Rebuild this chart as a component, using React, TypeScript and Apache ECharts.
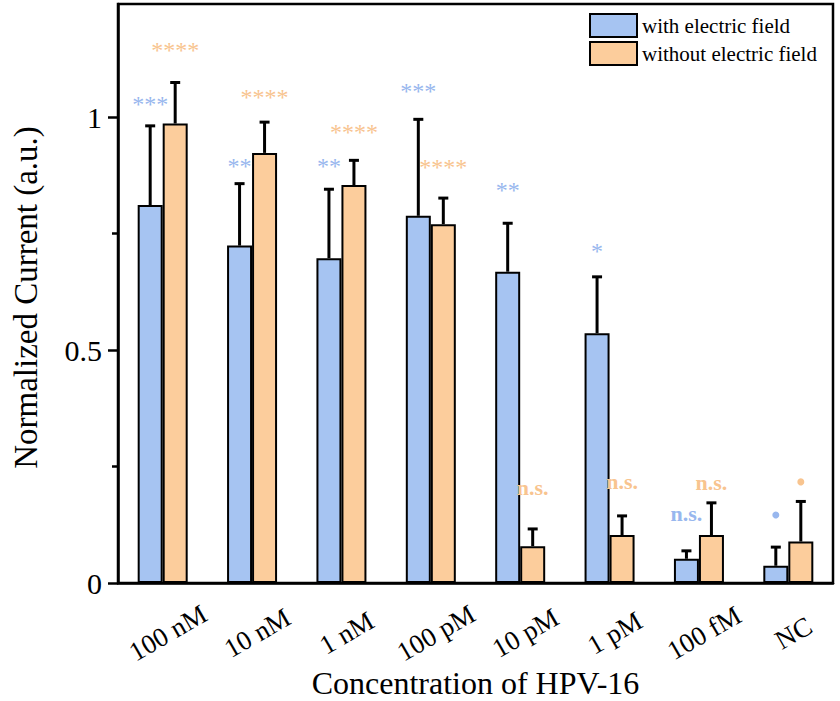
import React, { useEffect, useRef } from "react";
import * as echarts from "echarts";

const categories = ["100 nM", "10 nM", "1 nM", "100 pM", "10 pM", "1 pM", "100 fM", "NC"];
const withField = [0.811, 0.724, 0.697, 0.788, 0.668, 0.536, 0.052, 0.037];
const withFieldErr = [0.17, 0.133, 0.148, 0.207, 0.104, 0.121, 0.017, 0.04];
const withoutField = [0.986, 0.923, 0.854, 0.77, 0.079, 0.103, 0.103, 0.089];
const withoutFieldErr = [0.088, 0.066, 0.053, 0.056, 0.037, 0.041, 0.069, 0.086];
const withSig = ["***", "**", "**", "***", "**", "*", "n.s.", "•"];
const withSigY = [1.035, 0.902, 0.902, 1.062, 0.85, 0.719, 0.147, 0.146];
const withoutSig = ["****", "****", "****", "****", "n.s.", "n.s.", "n.s.", "•"];
const withoutSigY = [1.15, 1.049, 0.974, 0.899, 0.203, 0.215, 0.214, 0.217];
const yTicks = [0, 0.5, 1];
const yMinorTicks = [0.25, 0.75];

const FONT = '"Liberation Serif", "Times New Roman", serif';
const BLUE = "#a6c4f2";
const ORANGE = "#fccd9c";
const BLUE_TXT = "#98b7ee";
const ORANGE_TXT = "#f8c48f";
const HALF = 12.5;

function errorSeries(name: string, means: number[], errs: number[], dx: number) {
  return {
    type: "custom",
    name,
    data: means.map((m, i) => [i, m, errs[i]]),
    encode: { x: 0, y: 1 },
    z: 5,
    renderItem: (params: any, api: any) => {
      const i = api.value(0);
      const m = api.value(1);
      const e = api.value(2);
      const p0 = api.coord([i, m]);
      const p1 = api.coord([i, m + e]);
      const x = p0[0] + dx;
      return {
        type: "group",
        children: [
          { type: "line", shape: { x1: x, y1: p0[1], x2: x, y2: p1[1] }, style: { stroke: "#000", lineWidth: 3 } },
          { type: "line", shape: { x1: x - 5, y1: p1[1], x2: x + 5, y2: p1[1] }, style: { stroke: "#000", lineWidth: 3 } },
        ],
      };
    },
  };
}

function sigSeries(name: string, labels: string[], ys: number[], dx: number, color: string) {
  return {
    type: "custom",
    name,
    data: labels.map((s, i) => [i, ys[i]]),
    encode: { x: 0, y: 1 },
    z: 6,
    renderItem: (params: any, api: any) => {
      const idx = params.dataIndex;
      const s = labels[idx];
      const p = api.coord([api.value(0), api.value(1)]);
      const x = p[0] + dx;
      if (s === "•") {
        return { type: "circle", shape: { cx: x, cy: p[1], r: 3.5 }, style: { fill: color } };
      }
      const isNs = s === "n.s.";
      return {
        type: "text",
        x,
        y: p[1] + (isNs ? -1 : 3),
        style: {
          text: s,
          fill: color,
          fontSize: isNs ? 22 : 24,
          fontWeight: isNs ? "bold" : "normal",
          fontFamily: FONT,
          align: "center",
          verticalAlign: "middle",
        },
      };
    },
  };
}

export default function App() {
  const ref = useRef<HTMLDivElement>(null);
  useEffect(() => {
    if (!ref.current) return;
    const chart = echarts.init(ref.current, null, { renderer: "svg" });
    chart.setOption({
      animation: false,
      backgroundColor: "#fff",
      grid: {
        left: 118,
        right: 7,
        top: 4,
        bottom: 118,
        show: true,
        borderColor: "#000",
        borderWidth: 2.5,
        containLabel: false,
        outerBoundsMode: "none",
      },
      legend: {
        data: ["with electric field", "without electric field"],
        orient: "vertical",
        left: 589,
        top: 13,
        padding: 0,
        itemWidth: 47,
        itemHeight: 23,
        itemGap: 3,
        icon: "rect",
        itemStyle: { borderColor: "#000", borderWidth: 2 },
        textStyle: { fontFamily: FONT, fontSize: 21, color: "#000" },
      },
      xAxis: {
        type: "category",
        data: categories,
        axisLine: { show: true, lineStyle: { color: "#000", width: 2.5 } },
        axisTick: { show: false },
        axisLabel: {
          interval: 0,
          rotate: 30,
          margin: 53,
          align: "center",
          verticalAlign: "middle",
          padding: [0, 0, 0, 12],
          fontFamily: FONT,
          fontSize: 27,
          color: "#000",
        },
        name: "Concentration of HPV-16",
        nameLocation: "middle",
        nameGap: 84,
        nameMoveOverlap: false,
        nameTextStyle: { fontFamily: FONT, fontSize: 32, color: "#000" },
      },
      yAxis: [
        {
          type: "value",
          min: 0,
          max: 1.2425,
          position: "left",
          axisLine: { show: true, lineStyle: { color: "#000", width: 2.5 } },
          axisTick: { show: true, inside: false, length: 10, lineStyle: { color: "#000", width: 2.5 }, customValues: yTicks },
          axisLabel: { customValues: yTicks, margin: 16, fontFamily: FONT, fontSize: 30, color: "#000", formatter: (v: number) => String(v) },
          splitLine: { show: false },
          name: "Normalized Current (a.u.)",
          nameLocation: "middle",
          nameGap: 76,
          nameMoveOverlap: false,
          nameTextStyle: { fontFamily: FONT, fontSize: 33, color: "#000", padding: [0, 8, 0, 0] },
        },
        {
          type: "value",
          min: 0,
          max: 1.2425,
          position: "left",
          axisLine: { show: false },
          axisTick: { show: true, inside: false, length: 6, lineStyle: { color: "#000", width: 2.5 }, customValues: yMinorTicks },
          axisLabel: { show: false },
          splitLine: { show: false },
        },
      ],
      series: [
        {
          type: "bar",
          name: "with electric field",
          data: withField,
          barWidth: 25,
          barGap: "0%",
          itemStyle: { color: BLUE, borderColor: "#000", borderWidth: 2 },
        },
        {
          type: "bar",
          name: "without electric field",
          data: withoutField,
          barWidth: 25,
          barGap: "0%",
          itemStyle: { color: ORANGE, borderColor: "#000", borderWidth: 2 },
        },
        errorSeries("errWith", withField, withFieldErr, -HALF),
        errorSeries("errWithout", withoutField, withoutFieldErr, HALF),
        sigSeries("sigWith", withSig, withSigY, -HALF, BLUE_TXT),
        sigSeries("sigWithout", withoutSig, withoutSigY, HALF, ORANGE_TXT),
      ],
    });
    return () => chart.dispose();
  }, []);
  return <div ref={ref} style={{ position: "fixed", left: 0, top: 0, width: 840, height: 701 }} />;
}
